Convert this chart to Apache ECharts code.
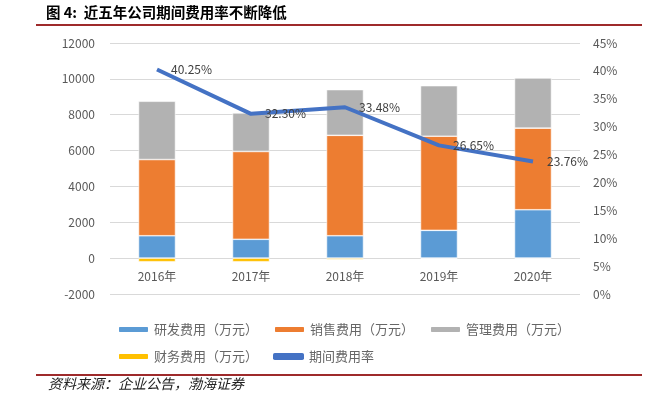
<!DOCTYPE html>
<html>
<head>
<meta charset="utf-8">
<script src="https://cdn.jsdelivr.net/npm/echarts@6/dist/echarts.min.js"></script>
<style>
html,body{margin:0;padding:0;background:#fff;}
#main{width:651px;height:397px;}
</style>
</head>
<body>
<div id="main"></div>
<script>
var years = ['2016年', '2017年', '2018年', '2019年', '2020年'];
var rdCost = [1250, 1050, 1250, 1550, 2700];      // 研发费用
var salesCost = [4250, 4900, 5600, 5250, 4550];   // 销售费用
var adminCost = [3250, 2150, 2550, 2820, 2800];   // 管理费用
var financeCost = [-200, -200, -80, -30, -30];    // 财务费用
var expenseRate = [40.25, 32.30, 33.48, 26.65, 23.76]; // 期间费用率 %

var font = '"Noto Sans CJK SC", "Microsoft YaHei", sans-serif';
var myChart = echarts.init(document.getElementById('main'));

function barSeries(name, data, color) {
	return {
		name: name,
		type: 'bar',
		stack: 'cost',
		barWidth: 37,
		data: data,
		itemStyle: {color: color, borderColor: '#fff', borderWidth: 0.6}
	};
}

var option = {
	animation: false,
	textStyle: {fontFamily: font},
	grid: {left: 110, right: 71, top: 43, bottom: 103},
	legend: [{
		left: 112, top: 318,
		itemWidth: 31, itemHeight: 7, itemGap: 15,
		textStyle: {color: '#666666', fontSize: 13, fontFamily: font},
		data: ['研发费用（万元）', '销售费用（万元）', '管理费用（万元）']
	}, {
		left: 112, top: 345,
		itemWidth: 31, itemHeight: 7, itemGap: 15,
		textStyle: {color: '#666666', fontSize: 13, fontFamily: font},
		data: ['财务费用（万元）', {name: '期间费用率', icon: 'roundRect'}]
	}],
	xAxis: {
		type: 'category',
		data: years,
		offset: -36,   // 标签放在0刻度线下方
		axisLine: {show: false, onZero: false},
		axisTick: {show: false},
		axisLabel: {color: '#595959', fontSize: 12, margin: 12}
	},
	yAxis: [{
		type: 'value',
		min: -2000, max: 12000, interval: 2000,
		axisLine: {show: false},
		axisTick: {show: false},
		axisLabel: {color: '#595959', fontSize: 12, margin: 15, formatter: function (v) { return String(v); }},
		splitLine: {lineStyle: {color: '#D9D9D9'}}
	}, {
		type: 'value',
		min: 0, max: 45, interval: 5,
		axisLine: {show: false},
		axisTick: {show: false},
		axisLabel: {color: '#595959', fontSize: 12, margin: 13, formatter: '{value}%'},
		splitLine: {show: false}
	}],
	series: [
		barSeries('研发费用（万元）', rdCost, '#5B9BD5'),
		barSeries('销售费用（万元）', salesCost, '#ED7D31'),
		barSeries('管理费用（万元）', adminCost, '#B2B2B2'),
		barSeries('财务费用（万元）', financeCost, '#FFC000'),
		{
			name: '期间费用率',
			type: 'line',
			yAxisIndex: 1,
			data: expenseRate,
			symbol: 'circle',
			symbolSize: 0.1,
			itemStyle: {color: '#4472C4'},
			lineStyle: {color: '#4472C4', width: 4},
			label: {
				show: true,
				position: 'right',
				distance: 14,
				color: '#404040',
				fontSize: 12,
				formatter: function (p) { return p.value.toFixed(2) + '%'; }
			}
		}
	],
	graphic: [
		{type: 'text', left: 46, top: 5, style: {text: '图 4:  近五年公司期间费用率不断降低', font: 'bold 14.5px ' + font, fill: '#000'}},
		{type: 'rect', shape: {x: 36, y: 24, width: 606, height: 2}, style: {fill: '#9E2A2B'}},
		{type: 'rect', shape: {x: 36, y: 374, width: 606, height: 2}, style: {fill: '#9E2A2B'}},
		{type: 'text', left: 48, top: 377, style: {text: '资料来源：企业公告，渤海证券', font: 'italic 14px ' + font, fill: '#222'}}
	]
};
myChart.setOption(option);
</script>
</body>
</html>
